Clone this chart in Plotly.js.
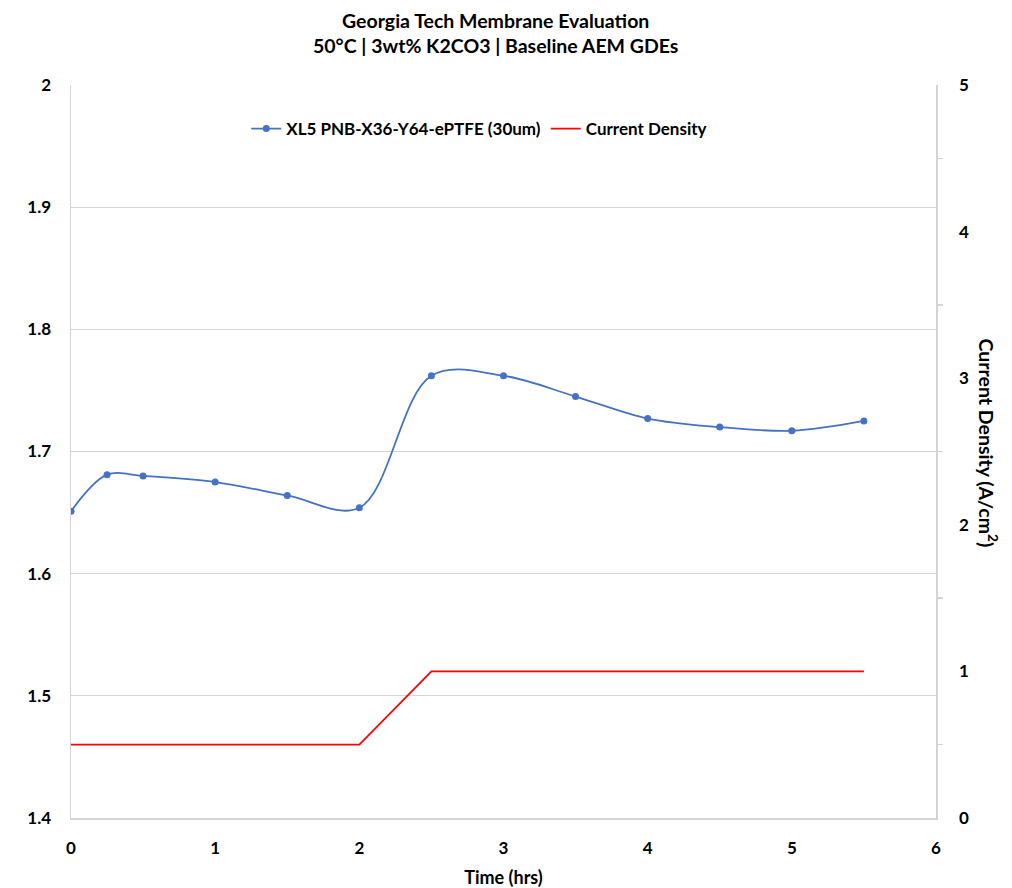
<!DOCTYPE html>
<html>
<head>
<meta charset="utf-8">
<script src="https://cdn.plot.ly/plotly-3.0.1.min.js"></script>
<style>
  html, body { margin: 0; padding: 0; background: #ffffff; }
  #chart { width: 1012px; height: 888px; }
</style>
</head>
<body>
<div id="chart"></div>
<script>
// Cell voltage over time
const timeHrs = [0, 0.25, 0.5, 1.0, 1.5, 2.0, 2.5, 3.0, 3.5, 4.0, 4.5, 5.0, 5.5];
const voltage = [1.651, 1.681, 1.680, 1.675, 1.664, 1.654, 1.762, 1.762, 1.745, 1.727, 1.720, 1.717, 1.725];

// Applied current density (A/cm²)
const currentTime = [0, 0.5, 1.0, 1.5, 2.0, 2.5, 3.0, 3.5, 4.0, 4.5, 5.0, 5.5];
const currentDensity = [0.5, 0.5, 0.5, 0.5, 0.5, 1.0, 1.0, 1.0, 1.0, 1.0, 1.0, 1.0];

const seriesNames = ['XL5 PNB-X36-Y64-ePTFE (30um)', 'Current Density'];

// Left axis tick positions and labels
const voltageTicks = [1.4, 1.5, 1.6, 1.7, 1.8, 1.9, 2.0];
const voltageTickText = ['1.4', '1.5', '1.6', '1.7', '1.8', '1.9', '2'];

const FONT = 'Lato, "Open Sans", "DejaVu Sans", sans-serif';
const AXIS_GREY = '#d4d4d4';
const TICK_FONT = { family: FONT, size: 17, weight: 'bold', color: '#000000' };

const traces = [
  {
    x: timeHrs, y: voltage, name: seriesNames[0],
    type: 'scatter', mode: 'lines+markers',
    line: { color: '#4472C4', width: 1.8, shape: 'spline', smoothing: 1 },
    marker: { color: '#4472C4', size: 7 },
    yaxis: 'y'
  },
  {
    x: currentTime, y: currentDensity, name: seriesNames[1],
    type: 'scatter', mode: 'lines',
    line: { color: '#FF0000', width: 1.8 },
    yaxis: 'y2'
  }
];

const layout = {
  width: 1012, height: 888,
  paper_bgcolor: '#ffffff', plot_bgcolor: '#ffffff',
  margin: { l: 71, r: 76, t: 85, b: 70 },
  font: { family: FONT, color: '#000000', size: 17 },
  title: {
    text: '<b>Georgia Tech Membrane Evaluation</b><br><b>50°C | 3wt% K2CO3 | Baseline AEM GDEs</b>',
    font: { family: FONT, size: 19.5, color: '#000000' },
    x: 0.491, xref: 'paper', xanchor: 'center',
    yref: 'container', y: 0.969, yanchor: 'middle'
  },
  showlegend: true,
  legend: {
    orientation: 'h',
    x: 0.472, xanchor: 'center',
    y: 0.94, yanchor: 'middle',
    font: { family: FONT, size: 17, color: '#000000', weight: 'bold' },
    bgcolor: 'rgba(0,0,0,0)',
    itemwidth: 30
  },
  xaxis: {
    range: [0, 6], dtick: 1, tick0: 0,
    showgrid: false, zeroline: false,
    showline: true, linecolor: AXIS_GREY, linewidth: 1.5,
    ticks: '', tickfont: TICK_FONT,
    ticklabelstandoff: 14,
    title: { text: '<b>Time (hrs)</b>', font: { family: FONT, size: 18 }, standoff: 16 }
  },
  yaxis: {
    range: [1.4, 2.0],
    tickmode: 'array', tickvals: voltageTicks, ticktext: voltageTickText,
    showgrid: true, gridcolor: AXIS_GREY, gridwidth: 1,
    zeroline: false,
    showline: true, linecolor: AXIS_GREY, linewidth: 1.5,
    ticks: '', tickfont: TICK_FONT,
    ticklabelstandoff: 15
  },
  yaxis2: {
    range: [0, 5], dtick: 1, tick0: 0,
    overlaying: 'y', side: 'right',
    showgrid: false, zeroline: false,
    showline: true, linecolor: AXIS_GREY, linewidth: 1.5,
    ticks: '', tickfont: TICK_FONT,
    ticklabelstandoff: 18,
    minor: { dtick: 0.5, ticks: 'outside', ticklen: 5, tickcolor: AXIS_GREY, tickwidth: 1.5 }
  },
  annotations: [
    {
      text: '<b>Current Density (A/cm<sup>2</sup>)</b>',
      xref: 'paper', yref: 'paper',
      x: 1.0, xshift: 52, xanchor: 'center',
      y: 0.5, yshift: 9, yanchor: 'middle',
      textangle: 90, showarrow: false,
      font: { family: FONT, size: 19.5, color: '#000000' }
    }
  ]
};

Plotly.newPlot('chart', traces, layout, { displayModeBar: false, staticPlot: true });
</script>
</body>
</html>
